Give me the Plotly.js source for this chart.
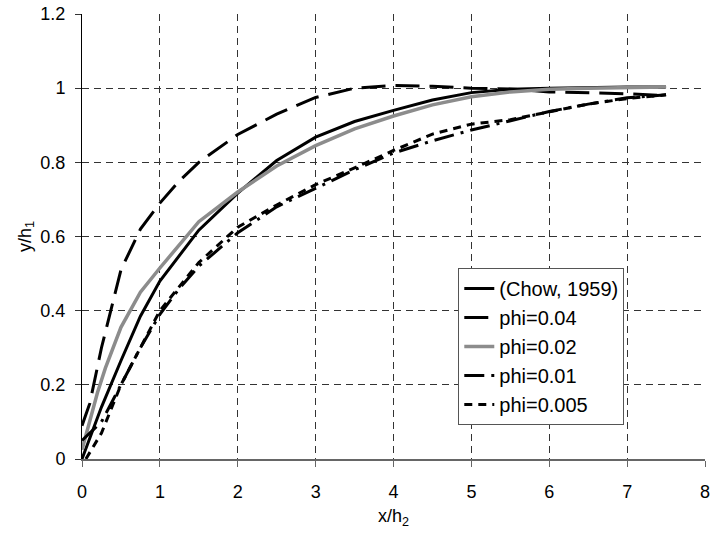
<!DOCTYPE html>
<html>
<head>
<meta charset="utf-8">
<script src="https://cdn.plot.ly/plotly-3.0.1.min.js"></script>
<style>html,body{margin:0;padding:0;background:#fff}#chart{width:710px;height:537px}</style>
</head>
<body>
<div id="chart"></div>
<script>
// Chow (1959)
const chowX = [0, 0.25, 0.5, 0.75, 1, 1.5, 2, 2.5, 3, 3.5, 4, 4.5, 5, 5.5, 6, 6.5, 7, 7.5];
const chowY = [0, 0.14, 0.265, 0.385, 0.48, 0.617, 0.717, 0.805, 0.868, 0.91, 0.94, 0.968, 0.988, 0.997, 1.0, 1.002, 1.003, 1.003];
// phi = 0.04
const p04X = [0, 0.1, 0.25, 0.4, 0.5, 0.75, 1, 1.25, 1.5, 2, 2.5, 3, 3.5, 4, 4.5, 5, 5.5, 6, 6.5, 7, 7.5];
const p04Y = [0.09, 0.15, 0.3, 0.43, 0.51, 0.62, 0.69, 0.75, 0.80, 0.875, 0.93, 0.975, 1.0, 1.007, 1.005, 1.0, 0.998, 0.99, 0.988, 0.985, 0.98];
// phi = 0.02
const p02X = [0, 0.1, 0.2, 0.3, 0.5, 0.75, 1, 1.5, 2, 2.5, 3, 3.5, 4, 4.5, 5, 5.5, 6, 6.5, 7, 7.5];
const p02Y = [0.025, 0.1, 0.18, 0.245, 0.355, 0.45, 0.515, 0.64, 0.72, 0.79, 0.845, 0.89, 0.925, 0.955, 0.977, 0.99, 0.997, 1.0, 1.002, 1.003];
// phi = 0.01
const p01X = [0, 0.25, 0.5, 0.75, 1, 1.25, 1.5, 2, 2.5, 3, 3.5, 4, 4.5, 5, 5.5, 6, 6.5, 7, 7.5];
const p01Y = [0.05, 0.1, 0.2, 0.3, 0.39, 0.46, 0.52, 0.61, 0.68, 0.73, 0.78, 0.825, 0.858, 0.887, 0.912, 0.937, 0.957, 0.974, 0.982];
// phi = 0.005
const p005X = [0.05, 0.25, 0.5, 0.75, 1, 1.5, 2, 2.5, 3, 3.5, 4, 4.5, 5, 5.5, 6, 6.5, 7, 7.5];
const p005Y = [0, 0.07, 0.2, 0.3, 0.4, 0.53, 0.625, 0.685, 0.74, 0.785, 0.832, 0.876, 0.903, 0.915, 0.935, 0.957, 0.972, 0.982];

const seriesNames = ['(Chow, 1959)', 'phi=0.04', 'phi=0.02', 'phi=0.01', 'phi=0.005'];
const xTicks = [0, 1, 2, 3, 4, 5, 6, 7, 8];
const yTicks = [0, 0.2, 0.4, 0.6, 0.8, 1, 1.2];
const yTickText = ['0', '0.2', '0.4', '0.6', '0.8', '1', '1.2'];

function tr(x, y, name, color, width, dash, g) {
  return {x: x, y: y, name: name, type: 'scatter', mode: 'lines',
    legendgroup: g, line: {color: color, width: width, dash: dash}};
}
const traces = [
  tr(chowX, chowY, seriesNames[0], '#000', 3, 'solid', 'a'),
  tr(p04X, p04Y, seriesNames[1], '#000', 3, '24px,10px', 'b'),
  tr(p02X, p02Y, seriesNames[2], '#8c8c8c', 3.5, 'solid', 'c'),
  tr(p01X, p01Y, seriesNames[3], '#000', 3, '20px,7px,3px,7px', 'd'),
  tr(p005X, p005Y, seriesNames[4], '#000', 3, '8px,6px', 'e')
];

const fam = 'Liberation Sans, Arial, sans-serif';
const layout = {
  width: 710, height: 537,
  margin: {l: 82, r: 5, t: 14, b: 78},
  paper_bgcolor: '#fff', plot_bgcolor: '#fff',
  font: {family: fam, size: 18, color: '#000'},
  showlegend: true,
  legend: {x: 0.604, y: 0.429, xanchor: 'left', yanchor: 'top',
    bgcolor: '#fff', bordercolor: '#555', borderwidth: 1,
    font: {family: fam, size: 20, color: '#000'},
    tracegroupgap: 0, itemwidth: 30, entrywidth: 175},
  xaxis: {range: [0, 8], tickvals: xTicks, ticktext: xTicks.map(String),
    showgrid: true, gridcolor: '#333', griddash: '7px,5px', gridwidth: 1,
    zeroline: false, showline: true, linecolor: '#666', linewidth: 1.5,
    ticks: 'outside', ticklen: 6, tickcolor: '#666', ticklabelstandoff: 10,
    ticklabeloverflow: 'allow',
    tickfont: {family: fam, size: 18},
    title: {text: 'x/h<sub>2</sub>', font: {family: fam, size: 18}, standoff: 8},
    fixedrange: true},
  yaxis: {range: [0, 1.2], tickvals: yTicks, ticktext: yTickText,
    showgrid: true, gridcolor: '#333', griddash: '7px,5px', gridwidth: 1,
    zeroline: false, showline: true, linecolor: '#000', linewidth: 1,
    ticks: 'outside', ticklen: 6, tickcolor: '#333', ticklabelstandoff: 6,
    tickfont: {family: fam, size: 18},
    title: {text: 'y/h<sub>1</sub>', font: {family: fam, size: 18}, standoff: 4},
    fixedrange: true}
};
Plotly.newPlot('chart', traces, layout, {displayModeBar: false, staticPlot: true});
</script>
</body>
</html>
